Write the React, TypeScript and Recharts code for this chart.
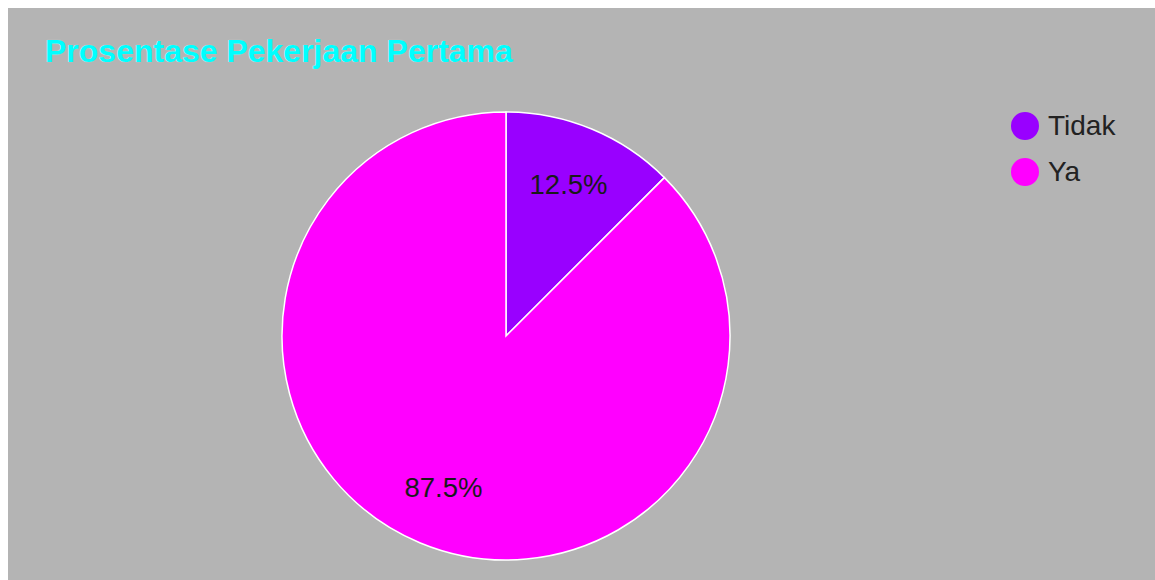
import React from "react";
import { PieChart, Pie, Cell, Legend } from "recharts";

const CATEGORIES = ["Tidak", "Ya"];
const VALUES = [1, 7];
const COLORS = ["#9900ff", "#ff00ff"];

const TITLE = "Prosentase Pekerjaan Pertama";
const FONT = "'Liberation Sans', Arial, sans-serif";
const RADIAN = Math.PI / 180;

const data = CATEGORIES.map((name, i) => ({ name, value: VALUES[i] }));

function SliceLabel(props: any) {
  const { cx, cy, midAngle, outerRadius, percent } = props;
  const r = outerRadius * 0.73;
  const x = cx + r * Math.cos(-midAngle * RADIAN);
  const y = cy + r * Math.sin(-midAngle * RADIAN);
  return (
    <text
      x={x}
      y={y}
      textAnchor="middle"
      dominantBaseline="central"
      fill="#1a1a1a"
      style={{ fontFamily: FONT, fontSize: 27.5 }}
    >
      {(percent * 100).toFixed(1)}%
    </text>
  );
}

function LegendList() {
  return (
    <div style={{ fontFamily: FONT, fontSize: 28, color: "#222" }}>
      {data.map((d, i) => (
        <div key={d.name} style={{ display: "flex", alignItems: "center", height: 46 }}>
          <svg width={30} height={30} style={{ marginRight: 8 }}>
            <circle cx={15} cy={15} r={14} fill={COLORS[i]} />
          </svg>
          <span>{d.name}</span>
        </div>
      ))}
    </div>
  );
}

export default function App() {
  return (
    <div style={{ position: "relative", width: 1147, height: 572, background: "#b4b4b4" }}>
      {/* box runs to the right and bottom edges of the window, like the screenshot */}
      <style>{"html { overflow: hidden; } body { margin: 8px 0 0 8px; }"}</style>
      <div
        style={{
          position: "absolute",
          left: 37,
          top: 27,
          fontFamily: FONT,
          fontSize: 32,
          fontWeight: "bold",
          lineHeight: "32px",
          color: "#00ffff",
          textShadow: "0 0 1px rgba(255,255,255,0.6)",
          whiteSpace: "nowrap",
        }}
      >
        {TITLE}
      </div>
      <PieChart width={1147} height={572} margin={{ top: 0, right: 0, bottom: 0, left: 0 }}>
        <Pie
          data={data}
          dataKey="value"
          nameKey="name"
          cx={498}
          cy={328}
          outerRadius={224}
          startAngle={90}
          endAngle={-270}
          stroke="#ffffff"
          strokeWidth={1.5}
          label={SliceLabel}
          labelLine={false}
          isAnimationActive={false}
        >
          {data.map((d, i) => (
            <Cell key={d.name} fill={COLORS[i]} />
          ))}
        </Pie>
        <Legend
          content={() => <LegendList />}
          wrapperStyle={{ position: "absolute", left: 1002, top: 95, width: 145 }}
        />
      </PieChart>
    </div>
  );
}
